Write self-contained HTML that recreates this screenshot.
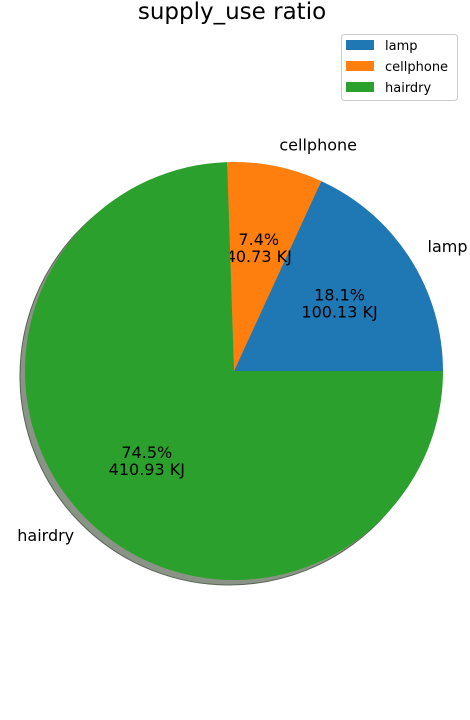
<!DOCTYPE html>
<html><head><meta charset="utf-8"><style>
body{margin:0;background:#fff;}
svg{display:block;font-family:"DejaVu Sans","Liberation Sans",sans-serif;}
</style></head><body>
<svg id="chart" width="470" height="720">
<text x="232" y="19" font-size="23" text-anchor="middle">supply_use ratio</text>
<g id="pie"></g>
<g id="legend"></g>
</svg>
<script>
const categories = ["lamp","cellphone","hairdry"];
const values = [100.13, 40.73, 410.93];
const colors = ["#1f77b4","#ff7f0e","#2ca02c"];
const NS="http://www.w3.org/2000/svg";
const cx=234, cy=371, r=209;
const pie=document.getElementById('pie');
const total=values.reduce((a,b)=>a+b,0);
function pt(a,rr){return [cx+rr*Math.cos(a), cy-rr*Math.sin(a)];}
const sh=document.createElementNS(NS,'circle');
sh.setAttribute('cx',cx-5);sh.setAttribute('cy',cy+5);sh.setAttribute('r',r);
sh.setAttribute('fill','#8a9486');sh.setAttribute('stroke','#5a6358');sh.setAttribute('stroke-width','1');


pie.appendChild(sh);
let start=0;
values.forEach((v,i)=>{
  const sweep=v/total*2*Math.PI, end=start+sweep;
  const p1=pt(start,r), p2=pt(end,r);
  const path=document.createElementNS(NS,'path');
  path.setAttribute('d',`M${cx},${cy}L${p1[0]},${p1[1]}A${r},${r} 0 ${sweep>Math.PI?1:0} 0 ${p2[0]},${p2[1]}Z`);
  path.setAttribute('fill',colors[i]);
  
  
  pie.appendChild(path);
  const mid=start+sweep/2;
  const lp=pt(mid,r*1.1);
  const lt=document.createElementNS(NS,'text');
  lt.setAttribute('x',lp[0]);lt.setAttribute('y',lp[1]+5);lt.setAttribute('font-size','16');
  lt.setAttribute('text-anchor',Math.cos(mid)>=0?'start':'end');
  lt.textContent=categories[i];
  
  
  pie.appendChild(lt);
  const ap=pt(mid,r*0.6);
  const at=document.createElementNS(NS,'text');
  at.setAttribute('x',ap[0]);at.setAttribute('y',ap[1]-3);at.setAttribute('font-size','16');
  at.setAttribute('text-anchor','middle');
  const t1=document.createElementNS(NS,'tspan');t1.setAttribute('x',ap[0]);t1.textContent=(v/total*100).toFixed(1)+'%';
  const t2=document.createElementNS(NS,'tspan');t2.setAttribute('x',ap[0]);t2.setAttribute('dy','17');t2.textContent=v.toFixed(2)+' KJ';
  at.appendChild(t1);at.appendChild(t2);
  
  
  pie.appendChild(at);
  start=end;
});
const lg=document.getElementById('legend');
const box=document.createElementNS(NS,'rect');
box.setAttribute('x',341.5);box.setAttribute('y',34.5);box.setAttribute('width',116);box.setAttribute('height',66);
box.setAttribute('rx',3);box.setAttribute('fill','#fff');box.setAttribute('stroke','#ccc');


lg.appendChild(box);
categories.forEach((c,i)=>{
  const y=40+i*21;
  const sw=document.createElementNS(NS,'rect');
  sw.setAttribute('x',346);sw.setAttribute('y',y);sw.setAttribute('width',28);sw.setAttribute('height',10);sw.setAttribute('fill',colors[i]);
  
  
  lg.appendChild(sw);
  const t=document.createElementNS(NS,'text');
  t.setAttribute('x',385);t.setAttribute('y',y+10);t.setAttribute('font-size','13');t.textContent=c;
  
  
  lg.appendChild(t);
});
</script>
</body></html>
